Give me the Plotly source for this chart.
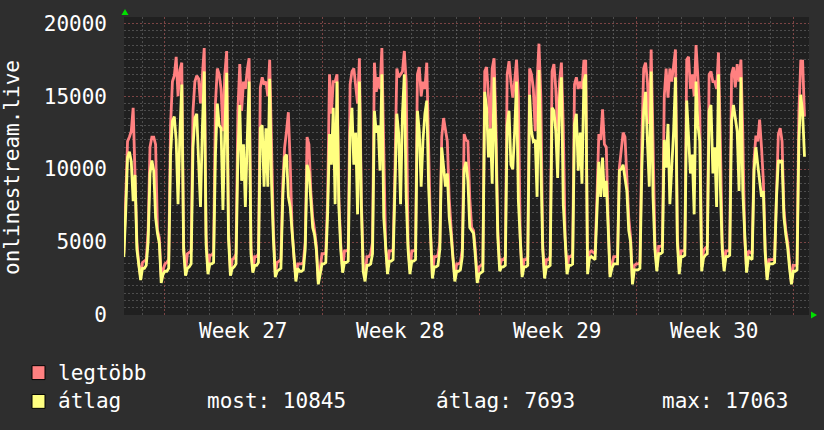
import plotly.graph_objects as go

# ---- data: 2-hour samples, hours relative to Monday 00:00 of week 27 ----
START_HOUR = -48
STEP_HOURS = 2

legtobb_wk26 = [4400, 4300, 4200, 8000, 11900, 12200, 12600, 14200, 9900, 5000, 3500, 2600,
                3600, 3700, 3800, 5800, 11500, 12200, 12200, 11700, 5800, 5300, 2600, 3100]
legtobb_wk27 = [3500, 3600, 3800, 13000, 16000, 16400, 17700, 15000, 16800, 17300, 4700, 3000,
                4200, 4300, 4400, 14000, 16000, 16400, 16200, 14500, 16500, 18300, 5500, 3000,
                4100, 4100, 4300, 14500, 16900, 16500, 15500, 12600, 16500, 18100, 5800, 2900,
                3800, 3900, 4200, 14000, 17200, 14000, 16000, 15500, 16800, 17600, 4700, 3000,
                4000, 4000, 4200, 15600, 16300, 15800, 16000, 15000, 17500, 12000, 5800, 2800,
                3600, 3700, 3800, 9000, 11500, 12600, 13900, 10300, 5800, 4000, 2500, 3500,
                3500, 3500, 3600, 5000, 12200, 11700, 8500, 6700, 5800, 4700, 2300, 3100]
legtobb_wk28 = [4200, 4200, 4300, 8000, 16500, 13800, 16000, 16000, 16500, 8000, 4900, 3100,
                4400, 4400, 4500, 15800, 16700, 16900, 15500, 14500, 17600, 8100, 3500, 2600,
                4000, 4000, 4200, 5000, 17300, 15300, 16300, 15500, 18300, 12000, 4700, 3100,
                4400, 4400, 4500, 10000, 16900, 16300, 16500, 16700, 18100, 16000, 4900, 3100,
                4400, 4400, 4500, 16500, 17000, 15000, 16000, 15500, 17300, 12000, 5800, 2700,
                4000, 4000, 4100, 5000, 12200, 13500, 12500, 11900, 8000, 5800, 4000, 2600,
                3500, 3500, 3600, 4500, 12400, 12000, 11900, 8000, 6000, 5800, 4500, 2400]
legtobb_wk29 = [3300, 3400, 3500, 16700, 17000, 15000, 12800, 16900, 17600, 13000, 5800, 3300,
                3800, 3800, 4000, 16500, 17400, 16000, 14900, 16000, 17500, 15000, 5300, 2800,
                3800, 3800, 4000, 16900, 16500, 15500, 12600, 16000, 18600, 15000, 4900, 2700,
                3800, 3800, 4000, 16700, 17200, 15500, 12600, 16000, 17300, 13000, 5300, 3100,
                4000, 4000, 4200, 15800, 16300, 15500, 16000, 15500, 17400, 17400, 3100, 4300,
                4400, 4300, 4200, 8000, 12400, 12000, 14100, 11700, 11500, 6500, 2800, 3500,
                4000, 4000, 4000, 10100, 11500, 12500, 12200, 9000, 6700, 5300, 2300, 3400]
legtobb_wk30 = [3500, 3500, 3600, 12000, 16900, 17300, 16000, 13100, 18200, 12000, 4900, 3300,
                4700, 4700, 4800, 15000, 16900, 14900, 16900, 16000, 17000, 18200, 5500, 3100,
                4400, 4400, 4500, 17500, 17700, 15500, 16500, 15000, 18500, 16000, 14000, 3300,
                4400, 4600, 4700, 16500, 16700, 16000, 16000, 15500, 18000, 12000, 4900, 3300,
                4400, 4400, 4500, 16500, 17000, 15600, 17200, 16000, 17500, 12500, 5300, 3200,
                4400, 4300, 4200, 10600, 12300, 11900, 13400, 11500, 9200, 4400, 2600, 3800,
                3800, 3800, 3900, 9000, 12400, 12800, 11900, 7200, 5800, 5000, 3500, 2200]
legtobb_wk31 = [3400, 3400, 3500, 14000, 17400, 17400, 13600]

atlag_wk26 = [4200, 4100, 4000, 7000, 10800, 11200, 10500, 7800, 9600, 4500, 3200, 2400,
              3200, 3200, 3400, 5000, 9700, 10600, 9900, 6700, 5600, 4900, 2200, 2800]
atlag_wk27 = [3000, 3000, 3200, 11000, 13300, 13600, 12000, 7600, 12500, 15800, 4400, 2700,
              3200, 3300, 3500, 11500, 13500, 13800, 10500, 7400, 12800, 16700, 4800, 2800,
              3500, 3500, 3600, 11000, 14500, 13000, 12800, 7200, 12500, 16600, 5200, 2700,
              3200, 3300, 3500, 11000, 14400, 9200, 11700, 7400, 12000, 16000, 4200, 2900,
              3400, 3400, 3600, 12800, 13000, 8800, 12800, 8800, 16200, 9000, 5200, 2600,
              3000, 3100, 3200, 8000, 10800, 11000, 8100, 7400, 5500, 3800, 2300, 3200,
              3000, 3000, 3100, 4500, 10300, 9800, 7600, 6000, 5500, 4400, 2100, 2900]
atlag_wk28 = [3500, 3500, 3600, 7000, 12400, 10300, 14200, 7600, 16000, 7400, 4500, 2900,
              3600, 3600, 3700, 12500, 14200, 10300, 12500, 6900, 16000, 7500, 3000, 2300,
              3400, 3400, 3500, 4200, 14000, 12500, 13000, 9900, 16500, 6700, 4300, 2800,
              3700, 3700, 3800, 8500, 13800, 12400, 7600, 13800, 16500, 8100, 4500, 2800,
              3700, 3700, 3800, 14000, 12600, 8800, 12000, 13800, 14700, 8800, 5300, 2500,
              3300, 3300, 3400, 4500, 11500, 10300, 8800, 9700, 6700, 5500, 3700, 2300,
              3000, 3000, 3100, 4000, 10000, 10500, 9200, 6000, 5800, 5600, 4000, 2200]
atlag_wk29 = [2800, 2900, 3000, 15300, 14200, 10800, 12800, 9000, 16300, 11500, 5300, 3000,
              3300, 3300, 3400, 13000, 14000, 10300, 10000, 12600, 16000, 7800, 5000, 2600,
              3300, 3300, 3400, 15100, 12600, 11900, 12000, 8100, 16800, 10300, 4500, 2500,
              3300, 3300, 3400, 14200, 14000, 12600, 9400, 14700, 16300, 7600, 5000, 2800,
              3400, 3400, 3500, 13100, 13800, 9900, 12500, 9000, 16000, 16500, 2800, 3900,
              4000, 3900, 3800, 7000, 10500, 8100, 10800, 8100, 9200, 6000, 2600, 3200,
              3500, 3500, 3500, 9900, 10000, 10300, 9500, 8500, 5800, 5000, 2100, 3100]
atlag_wk30 = [3100, 3100, 3200, 10000, 14000, 15300, 11900, 8800, 16700, 8100, 4500, 3000,
              4200, 4200, 4300, 12000, 10100, 13100, 7600, 10000, 12600, 16300, 5000, 2800,
              4000, 4000, 4100, 14700, 12200, 9700, 11000, 6900, 16000, 13000, 11900, 3000,
              3900, 4100, 4200, 14000, 14400, 9700, 11500, 7400, 16500, 8800, 4500, 3000,
              4000, 4000, 4100, 13300, 14400, 13300, 12600, 8500, 16300, 8500, 5000, 2900,
              4000, 3900, 3800, 9900, 11500, 10300, 9000, 8100, 8500, 4200, 2400, 3500,
              3500, 3500, 3600, 8000, 10600, 10500, 10600, 6700, 5500, 4600, 3200, 2100]
atlag_wk31 = [3000, 3000, 3100, 12000, 15100, 13800, 10845]

week_labels = ["Week 27", "Week 28", "Week 29", "Week 30"]
y_ticks = [0, 5000, 10000, 15000, 20000]
legend_names = ["legtöbb", "átlag"]
stats_text = ["most: 10845", "átlag: 7693", "max: 17063"]

# ---- assemble ----
legtobb = legtobb_wk26 + legtobb_wk27 + legtobb_wk28 + legtobb_wk29 + legtobb_wk30 + legtobb_wk31
atlag = atlag_wk26 + atlag_wk27 + atlag_wk28 + atlag_wk29 + atlag_wk30 + atlag_wk31
hours = [START_HOUR + STEP_HOURS * i for i in range(len(legtobb))]

W, H = 824, 430
ML, MR, MT, MB = 124, 15, 15, 115
PW, PH = W - ML - MR, H - MT - MB


def PX(x):
    return (x - ML) / PW


def PY(y):
    return (H - MB - y) / PH


BG = "#2e2e2e"
PLOT_BG = "#202020"
RED = "#ff8080"
YEL = "#ffff80"
FONT = "DejaVu Sans Mono"
MINOR_GRID = "rgba(140,140,140,0.42)"
MAJOR_GRID = "rgba(170,60,60,0.5)"

fig = go.Figure()
fig.add_trace(go.Scatter(x=hours, y=legtobb, mode="lines", name=legend_names[0],
                         line=dict(color=RED, width=2.8), showlegend=False, hoverinfo="skip"))
fig.add_trace(go.Scatter(x=hours, y=atlag, mode="lines", name=legend_names[1],
                         line=dict(color=YEL, width=2.8), showlegend=False, hoverinfo="skip"))

fig.update_layout(
    width=W, height=H,
    margin=dict(l=ML, r=MR, t=MT, b=MB, pad=0),
    paper_bgcolor=BG, plot_bgcolor=PLOT_BG,
    font=dict(family=FONT, size=21, color="#ffffff"),
    showlegend=False,
)

fig.update_xaxes(
    range=[-43.8, 688.8],
    tickvals=[0, 168, 336, 504, 672], ticktext=["", "", "", "", ""],
    showticklabels=False, ticks="",
    showgrid=True, gridcolor=MAJOR_GRID, griddash="2px,2px", gridwidth=1,
    minor=dict(dtick=24, tick0=0, showgrid=True, gridcolor=MINOR_GRID,
               griddash="2px,2px", gridwidth=1),
    zeroline=False, showline=False,
)
fig.update_yaxes(
    range=[0, 20430],
    tickvals=y_ticks, ticktext=[str(v) for v in y_ticks],
    ticks="", ticklabelstandoff=16,
    tickfont=dict(family=FONT, size=21, color="#ffffff"),
    showgrid=True, gridcolor=MAJOR_GRID, griddash="2px,2px", gridwidth=1,
    minor=dict(dtick=500, tick0=0, showgrid=True, gridcolor=MINOR_GRID,
               griddash="2px,2px", gridwidth=1),
    zeroline=False, showline=False,
)

annotations = []
# week labels centered in each week
for i, lab in enumerate(week_labels):
    annotations.append(dict(x=84 + 168 * i, y=PY(331), xref="x", yref="paper",
                            text=lab, showarrow=False, xanchor="center", yanchor="middle",
                            font=dict(family=FONT, size=21, color="#ffffff")))
# y title
annotations.append(dict(x=PX(12), y=PY(167), xref="paper", yref="paper",
                        text="onlinestream.live", textangle=-90, showarrow=False,
                        xanchor="center", yanchor="middle",
                        font=dict(family=FONT, size=21, color="#ffffff")))
# legend texts
annotations.append(dict(x=PX(56), y=PY(373), xref="paper", yref="paper", text=legend_names[0],
                        showarrow=False, xanchor="left", yanchor="middle"))
annotations.append(dict(x=PX(56), y=PY(402), xref="paper", yref="paper", text=legend_names[1],
                        showarrow=False, xanchor="left", yanchor="middle"))
for xpos, t in zip([205, 434, 660], stats_text):
    annotations.append(dict(x=PX(xpos), y=PY(402), xref="paper", yref="paper", text=t,
                            showarrow=False, xanchor="left", yanchor="middle"))
fig.update_layout(annotations=annotations)

shapes = [
    dict(type="rect", xref="paper", yref="paper", x0=PX(32), x1=PX(45), y0=PY(380), y1=PY(366),
         fillcolor=RED, line=dict(color="#000000", width=1)),
    dict(type="rect", xref="paper", yref="paper", x0=PX(32), x1=PX(45), y0=PY(409), y1=PY(395),
         fillcolor=YEL, line=dict(color="#000000", width=1)),
    dict(type="path", xref="paper", yref="paper",
         path=f"M {PX(121.5)} {PY(13)} L {PX(128.5)} {PY(13)} L {PX(125)} {PY(7)} Z",
         fillcolor="#00e000", line=dict(width=0)),
    dict(type="path", xref="paper", yref="paper",
         path=f"M {PX(811)} {PY(311.5)} L {PX(811)} {PY(318.5)} L {PX(817)} {PY(315)} Z",
         fillcolor="#00e000", line=dict(width=0)),
]
fig.update_layout(shapes=shapes)

fig.write_html("out.html")
